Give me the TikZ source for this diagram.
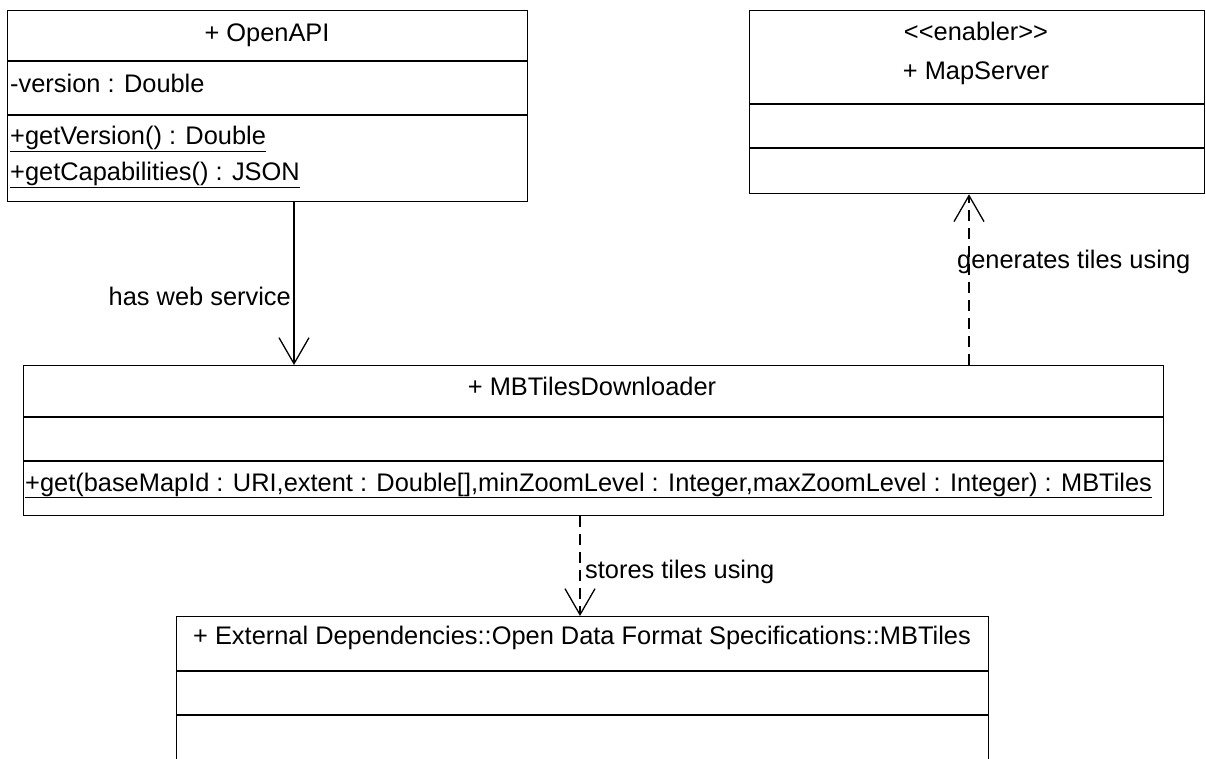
\documentclass[tikz,border=0pt]{standalone}
\usepackage{fontspec}
\setmainfont{Liberation Sans}
\usetikzlibrary{arrows.meta}
\begin{document}
\begin{tikzpicture}[x=1pt,y=-1pt,
  umlbox/.style={draw=black,line width=1.3pt,fill=white,rectangle,inner sep=0pt,anchor=north west},
  divider/.style={line width=1.3pt},
  txt/.style={inner sep=0pt,font=\fontsize{25.4}{28}\selectfont},
  assoc/.style={line width=1.3pt,-{Straight Barb[length=26pt,width=30pt,line width=1.3pt]}},
  depend/.style={line width=1.3pt,dash pattern=on 11pt off 7pt,-{Straight Barb[length=26pt,width=30pt,line width=1.3pt]}}]
\useasboundingbox (0,0) rectangle (1206,759);
\clip (0,0) rectangle (1206,759);
\fill[white] (0,0) rectangle (1206,759);
% boxes
\node[umlbox,minimum width=520pt,minimum height=191pt] (openapi) at (7,10) {};
\node[umlbox,minimum width=455pt,minimum height=183pt] (mapserver) at (749,10) {};
\node[umlbox,minimum width=1140pt,minimum height=150pt] (dl) at (23,365) {};
\node[umlbox,minimum width=812pt,minimum height=170pt] (mbt) at (176,616) {};
% dividers
\draw[divider] (openapi.west |- 0,61) -- (openapi.east |- 0,61);
\draw[divider] (openapi.west |- 0,115) -- (openapi.east |- 0,115);
\draw[divider] (mapserver.west |- 0,104) -- (mapserver.east |- 0,104);
\draw[divider] (mapserver.west |- 0,148) -- (mapserver.east |- 0,148);
\draw[divider] (dl.west |- 0,417) -- (dl.east |- 0,417);
\draw[divider] (dl.west |- 0,461) -- (dl.east |- 0,461);
\draw[divider] (mbt.west |- 0,671) -- (mbt.east |- 0,671);
\draw[divider] (mbt.west |- 0,715) -- (mbt.east |- 0,715);
% texts
\node[txt,anchor=base] (t1) at (267,42) {+ OpenAPI};
\node[txt,anchor=base west] (t2) at (10,93) {-version : Double};
\node[txt,anchor=base west] (t3) at (10,145) {\underline{+getVersion() : Double}};
\node[txt,anchor=base west] (t4) at (10,181) {\underline{+getCapabilities() : JSON}};
\node[txt,anchor=base] (t5) at (976,41) {<{}<enabler>{}>};
\node[txt,anchor=base] (t6) at (976,80) {+ MapServer};
\node[txt,anchor=base] (t7) at (592,395) {+ MBTilesDownloader};
\node[txt,anchor=base west] (t8) at (25,491) {\underline{+get(baseMapId : URI,extent : Double[],minZoomLevel : Integer,maxZoomLevel : Integer) : MBTiles}};
\node[txt,anchor=base] (t9) at (582,644) {+ External Dependencies::Open Data Format Specifications::MBTiles};
% connectors
\coordinate (c1) at (294,0);
\coordinate (c2) at (969,0);
\coordinate (c3) at (580,0);
\draw[assoc] (c1 |- openapi.south) -- (c1 |- dl.north);
\draw[depend] (c2 |- dl.north) -- (c2 |- mapserver.south);
\draw[depend] (c3 |- dl.south) -- (c3 |- mbt.north);
% labels
\node[txt,anchor=base east] (l1) at (291,305) {has web service};
\node[txt,anchor=base west] (l2) at (957,268) {generates tiles using};
\node[txt,anchor=base west] (l3) at (585,578) {stores tiles using};
\end{tikzpicture}
\end{document}
